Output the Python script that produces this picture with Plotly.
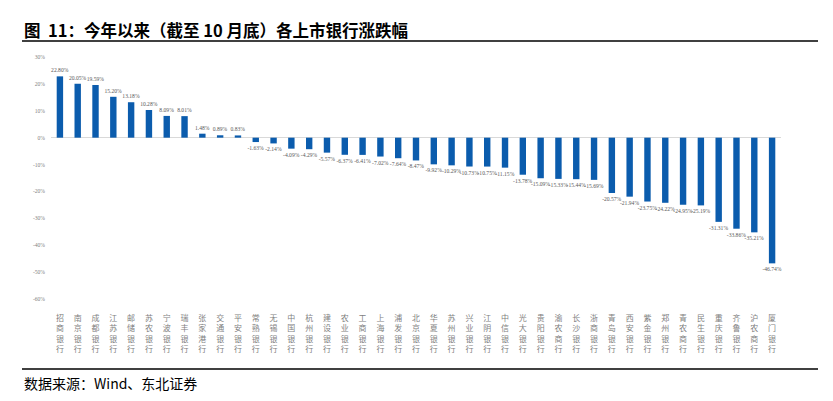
import plotly.graph_objects as go

banks = ["招商银行", "南京银行", "成都银行", "江苏银行", "邮储银行", "苏农银行", "宁波银行", "瑞丰银行",
         "张家港行", "交通银行", "平安银行", "常熟银行", "无锡银行", "中国银行", "杭州银行", "建设银行",
         "农业银行", "工商银行", "上海银行", "浦发银行", "北京银行", "华夏银行", "苏州银行", "兴业银行",
         "江阴银行", "中信银行", "光大银行", "贵阳银行", "渝农商行", "长沙银行", "浙商银行", "青岛银行",
         "西安银行", "紫金银行", "郑州银行", "青农商行", "民生银行", "重庆银行", "齐鲁银行", "沪农商行",
         "厦门银行"]
changes = [22.80, 20.05, 19.59, 15.20, 13.18, 10.28, 8.09, 8.01, 1.48, 0.89, 0.83, -1.63, -2.14,
           -4.09, -4.29, -5.57, -6.37, -6.41, -7.02, -7.64, -8.47, -9.92, -10.29, -10.73, -10.75,
           -11.15, -13.78, -15.09, -15.33, -15.44, -15.69, -20.57, -21.94, -23.75, -24.22, -24.95,
           -25.19, -31.31, -33.86, -35.21, -46.74]
y_ticks = [30, 20, 10, 0, -10, -20, -30, -40, -50, -60]
y_tick_labels = [f"{v}%" for v in y_ticks]

title_text = "图  11：今年以来（截至 10 月底）各上市银行涨跌幅"
source_text = "数据来源：Wind、东北证券"

# page body adds an 8px offset
OFF = 8
W, H = 833, 401
L, T = 51 - OFF, 57 - OFF
R = W - (781 - OFF)
B = H - (299 - OFF)
pw, ph = W - L - R, H - T - B

def px_x(x):
    return (x - OFF - L) / pw

def px_y(y):
    return 1 - (y - OFF - T) / ph

vertical = ["<br>".join(list(b)) for b in banks]

fig = go.Figure()
fig.add_trace(go.Bar(
    x=list(range(len(banks))), y=changes,
    marker=dict(color="#0B5CAD", line=dict(width=0)),
    text=[f"{v:.2f}%" for v in changes],
    textposition="outside",
    constraintext="none",
    textfont=dict(size=5.6, color="#595959", family="Liberation Serif"),
    cliponaxis=False,
    width=0.36,
))

fig.update_layout(
    width=W, height=H,
    margin=dict(l=L, r=R, t=T, b=B, autoexpand=False),
    paper_bgcolor="white", plot_bgcolor="white",
    showlegend=False,
    font=dict(family="Noto Sans CJK SC"),
    xaxis=dict(
        tickmode="array", tickvals=list(range(len(banks))), ticktext=vertical,
        range=[-0.5, len(banks) - 0.5],
        showgrid=False, showline=False, ticks="", zeroline=False,
        tickfont=dict(size=8, color="#7f7f7f", family="Noto Sans CJK SC"),
        ticklabelstandoff=13, automargin=False,
    ),
    yaxis=dict(
        range=[-60, 30], tickmode="array", tickvals=y_ticks, ticktext=y_tick_labels,
        showgrid=False, showline=False, ticks="",
        zeroline=True, zerolinecolor="#d9d9d9", zerolinewidth=1,
        tickfont=dict(size=5.6, color="#7f7f7f", family="Liberation Serif"),
        ticklabelstandoff=5, automargin=False,
    ),
)

fig.add_annotation(
    text=f"<b>{title_text}</b>", xref="paper", yref="paper",
    x=px_x(22), y=px_y(30), xanchor="left", yanchor="middle",
    showarrow=False, font=dict(size=16.5, color="#000000", family="Noto Sans CJK SC"),
)
fig.add_annotation(
    text=source_text, xref="paper", yref="paper",
    x=px_x(22), y=px_y(383), xanchor="left", yanchor="middle",
    showarrow=False, font=dict(size=14, color="#000000", family="Noto Sans CJK SC"),
)
for yy, lw in ((41, 1.5), (369, 1.5)):
    fig.add_shape(type="line", xref="paper", yref="paper",
                  x0=px_x(22), x1=px_x(818), y0=px_y(yy), y1=px_y(yy),
                  line=dict(color="#000000", width=lw))

fig.write_html("out.html")
